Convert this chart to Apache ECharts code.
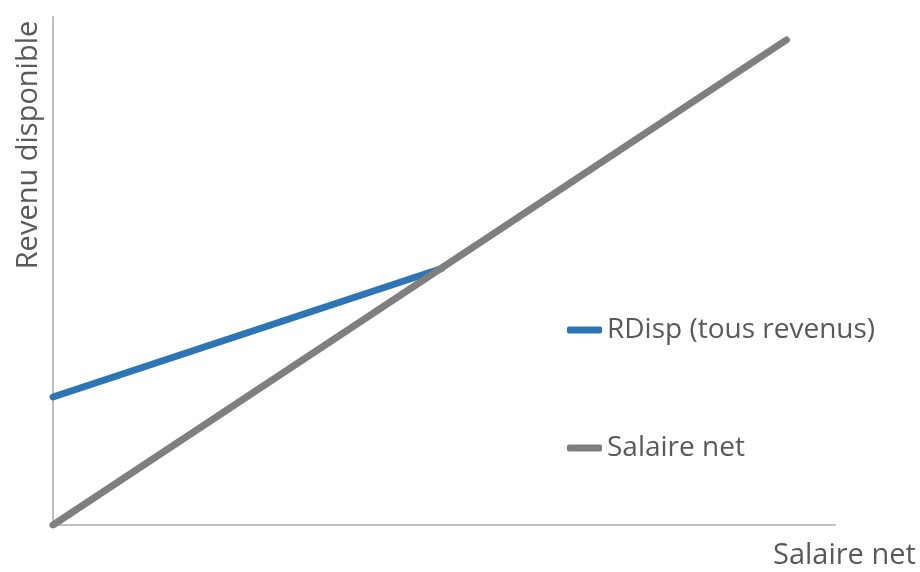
<!DOCTYPE html>
<html>
<head>
<meta charset="utf-8">
<script src="https://cdn.jsdelivr.net/npm/echarts@6/dist/echarts.min.js"></script>
<style>html,body{margin:0;padding:0;background:#fff}#c{width:920px;height:572px}</style>
</head>
<body>
<div id="c"></div>
<script>
var seriesNames = ['RDisp (tous revenus)', 'Salaire net'];
var rdispData = [[0, 25.2], [49.7, 50.5]];
var salaireData = [[0, 0], [93.8, 95.5]];
var xTitle = 'Salaire net';
var yTitle = 'Revenu disponible';

var font = '"Open Sans", "Noto Sans", sans-serif';
var chart = echarts.init(document.getElementById('c'));
chart.setOption({
  animation: false,
  grid: {left: 53, right: 85, top: 17, bottom: 47},
  xAxis: {type: 'value', min: 0, max: 100, axisLabel: {show: false}, axisTick: {show: false}, splitLine: {show: false},
    axisLine: {lineStyle: {color: '#bfbfbf', width: 2}}},
  yAxis: {type: 'value', min: 0, max: 100, axisLabel: {show: false}, axisTick: {show: false}, splitLine: {show: false},
    axisLine: {show: true, lineStyle: {color: '#bfbfbf', width: 2}}},
  legend: [
    {data: [seriesNames[0]], left: 562, top: 311, icon: 'roundRect', itemWidth: 35, itemHeight: 7, itemGap: 6,
      textStyle: {fontFamily: font, fontSize: 28, color: '#595959'}},
    {data: [seriesNames[1]], left: 562, top: 429, icon: 'roundRect', itemWidth: 35, itemHeight: 7, itemGap: 6,
      textStyle: {fontFamily: font, fontSize: 28, color: '#595959'}}
  ],
  graphic: [
    {type: 'text', left: 773, top: 541, style: {text: xTitle, font: '29px ' + font, fill: '#595959'}},
    {type: 'text', x: 14, y: 145, rotation: Math.PI / 2,
      style: {text: yTitle, font: '29px ' + font, fill: '#595959', align: 'center', verticalAlign: 'top'}}
  ],
  series: [
    {name: seriesNames[0], type: 'line', data: rdispData, showSymbol: false, itemStyle: {color: '#2e75b6'},
      lineStyle: {color: '#2e75b6', width: 7, cap: 'round'}, z: 2},
    {name: seriesNames[1], type: 'line', data: salaireData, showSymbol: false, itemStyle: {color: '#7f7f7f'},
      lineStyle: {color: '#7f7f7f', width: 7, cap: 'round'}, z: 3}
  ]
});
</script>
</body>
</html>
